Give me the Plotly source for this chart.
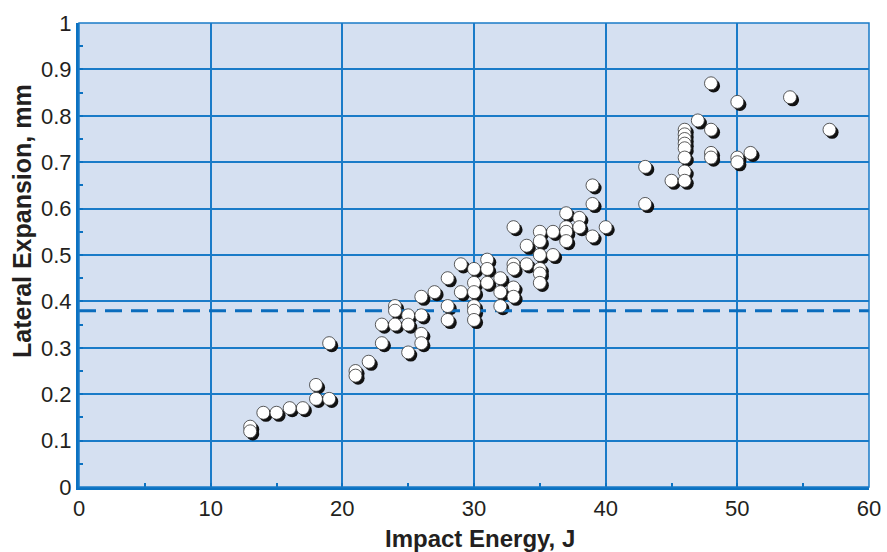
import plotly.graph_objects as go

energy = [13, 13, 14, 15, 16, 17, 18, 18, 19, 19, 21, 21, 22, 23, 23, 24, 24, 24,
          25, 25, 25, 26, 26, 26, 26, 27, 28, 28, 28, 29, 29,
          30, 30, 30, 30, 30, 30, 31, 31, 31, 32, 32, 32,
          33, 33, 33, 33, 33, 34, 34, 35, 35, 35, 35, 35, 35, 36, 36,
          37, 37, 37, 37, 38, 38, 39, 39, 39, 40,
          43, 43, 45, 46, 46, 46, 46, 46, 46, 46, 46, 47, 48, 48, 48, 48,
          50, 50, 50, 51, 54, 57]
expansion = [0.13, 0.12, 0.16, 0.16, 0.17, 0.17, 0.22, 0.19, 0.19, 0.31, 0.25, 0.24, 0.27, 0.35, 0.31, 0.39, 0.38, 0.35,
             0.37, 0.35, 0.29, 0.41, 0.37, 0.33, 0.31, 0.42, 0.45, 0.39, 0.36, 0.48, 0.42,
             0.47, 0.44, 0.42, 0.39, 0.38, 0.36, 0.49, 0.47, 0.44, 0.45, 0.42, 0.39,
             0.56, 0.48, 0.47, 0.43, 0.41, 0.52, 0.48, 0.55, 0.53, 0.50, 0.47, 0.46, 0.44, 0.55, 0.50,
             0.59, 0.56, 0.55, 0.53, 0.58, 0.56, 0.65, 0.61, 0.54, 0.56,
             0.69, 0.61, 0.66, 0.77, 0.76, 0.75, 0.74, 0.73, 0.71, 0.68, 0.66, 0.79, 0.87, 0.77, 0.72, 0.71,
             0.83, 0.71, 0.70, 0.72, 0.84, 0.77]
threshold = 0.38

x_range = [0, 60]
y_range = [0, 1]
x_ticks = [0, 10, 20, 30, 40, 50, 60]
y_ticks = [0, 0.1, 0.2, 0.3, 0.4, 0.5, 0.6, 0.7, 0.8, 0.9, 1]
y_ticklabels = ["0", "0.1", "0.2", "0.3", "0.4", "0.5", "0.6", "0.7", "0.8", "0.9", "1"]
x_title = "Impact Energy, J"
y_title = "Lateral Expansion, mm"

BLUE = "#1a7bc8"
AXIS_BLUE = "#0b72c2"
BG = "#d5e0f1"
TXT = "#231f20"
FONT = "Liberation Sans, Arial, Helvetica, sans-serif"

W, H = 887, 552
ml, mr, mt, mb = 79, 18, 23, 65
pw = W - ml - mr
ph = H - mt - mb
# shadow offset (pixels) converted to data units for the shifted shadow axes
dx = 2.6 * (x_range[1] - x_range[0]) / pw
dy = 2.6 * (y_range[1] - y_range[0]) / ph

fig = go.Figure()

# shadow markers (main axes, range shifted so marks sit 2-3 px down-right)
fig.add_trace(go.Scatter(
    x=energy, y=expansion, mode="markers", xaxis="x", yaxis="y",
    marker=dict(size=13, color="#111111", line=dict(width=0)),
    hoverinfo="skip", showlegend=False))

# threshold line (visible axes)
fig.add_trace(go.Scatter(
    x=x_range, y=[threshold, threshold], mode="lines", xaxis="x2", yaxis="y2",
    line=dict(color="#0a6cbd", width=3, dash="17px,9px"),
    showlegend=False, hoverinfo="skip"))

# white markers
fig.add_trace(go.Scatter(
    x=energy, y=expansion, mode="markers", xaxis="x2", yaxis="y2",
    marker=dict(size=13, color="white", line=dict(width=0.8, color="#333333")),
    showlegend=False))

hidden = dict(showgrid=False, zeroline=False, showline=False, ticks="",
              showticklabels=False, fixedrange=True, automargin=False)

fig.update_layout(
    width=W, height=H,
    margin=dict(l=ml, r=mr, t=mt, b=mb),
    paper_bgcolor="white",
    plot_bgcolor=BG,
    font=dict(family=FONT, color=TXT, size=22),
    xaxis=dict(range=[x_range[0] - dx, x_range[1] - dx], **hidden),
    yaxis=dict(range=[y_range[0] + dy, y_range[1] + dy], **hidden),
    xaxis2=dict(
        overlaying="x", side="bottom", anchor="y2",
        range=x_range, tickvals=x_ticks, showgrid=True, gridcolor=BLUE, gridwidth=1.5,
        zeroline=False, showline=True, linecolor=AXIS_BLUE, linewidth=3,
        ticks="inside", ticklen=4, tickwidth=2, tickcolor=AXIS_BLUE,
        minor=dict(dtick=5, ticks="inside", ticklen=4, tickwidth=2, tickcolor=AXIS_BLUE, showgrid=False),
        tickfont=dict(size=22, color=TXT), automargin=False, fixedrange=True,
    ),
    yaxis2=dict(
        overlaying="y", side="left", anchor="x2",
        range=y_range, tickvals=y_ticks, ticktext=y_ticklabels, showgrid=True, gridcolor=BLUE, gridwidth=1.5,
        zeroline=False, showline=True, linecolor=AXIS_BLUE, linewidth=3,
        ticks="inside", ticklen=4, tickwidth=2, tickcolor=AXIS_BLUE,
        minor=dict(dtick=0.05, ticks="inside", ticklen=4, tickwidth=2, tickcolor=AXIS_BLUE, showgrid=False),
        tickfont=dict(size=22, color=TXT), automargin=False, fixedrange=True,
    ),
)

# top and right borders
fig.add_shape(type="rect", xref="paper", yref="paper", x0=0, x1=1, y0=0, y1=1,
              line=dict(color=BLUE, width=1.5), layer="above")

# axis titles
fig.add_annotation(text="<b>" + x_title + "</b>", xref="paper", yref="paper",
                   x=0.5, y=0, yshift=-51, xshift=6, xanchor="center", yanchor="middle",
                   showarrow=False, font=dict(size=24, color=TXT, family=FONT))
fig.add_annotation(text="<b>" + y_title + "</b>", xref="paper", yref="paper",
                   x=0, y=0.5, xshift=-57, yshift=34, xanchor="center", yanchor="middle",
                   textangle=-90, showarrow=False, font=dict(size=25, color=TXT, family=FONT))

fig.write_html("out.html", config={"displayModeBar": False},
               post_script="document.body.style.margin='0px';document.body.style.overflow='hidden';")
